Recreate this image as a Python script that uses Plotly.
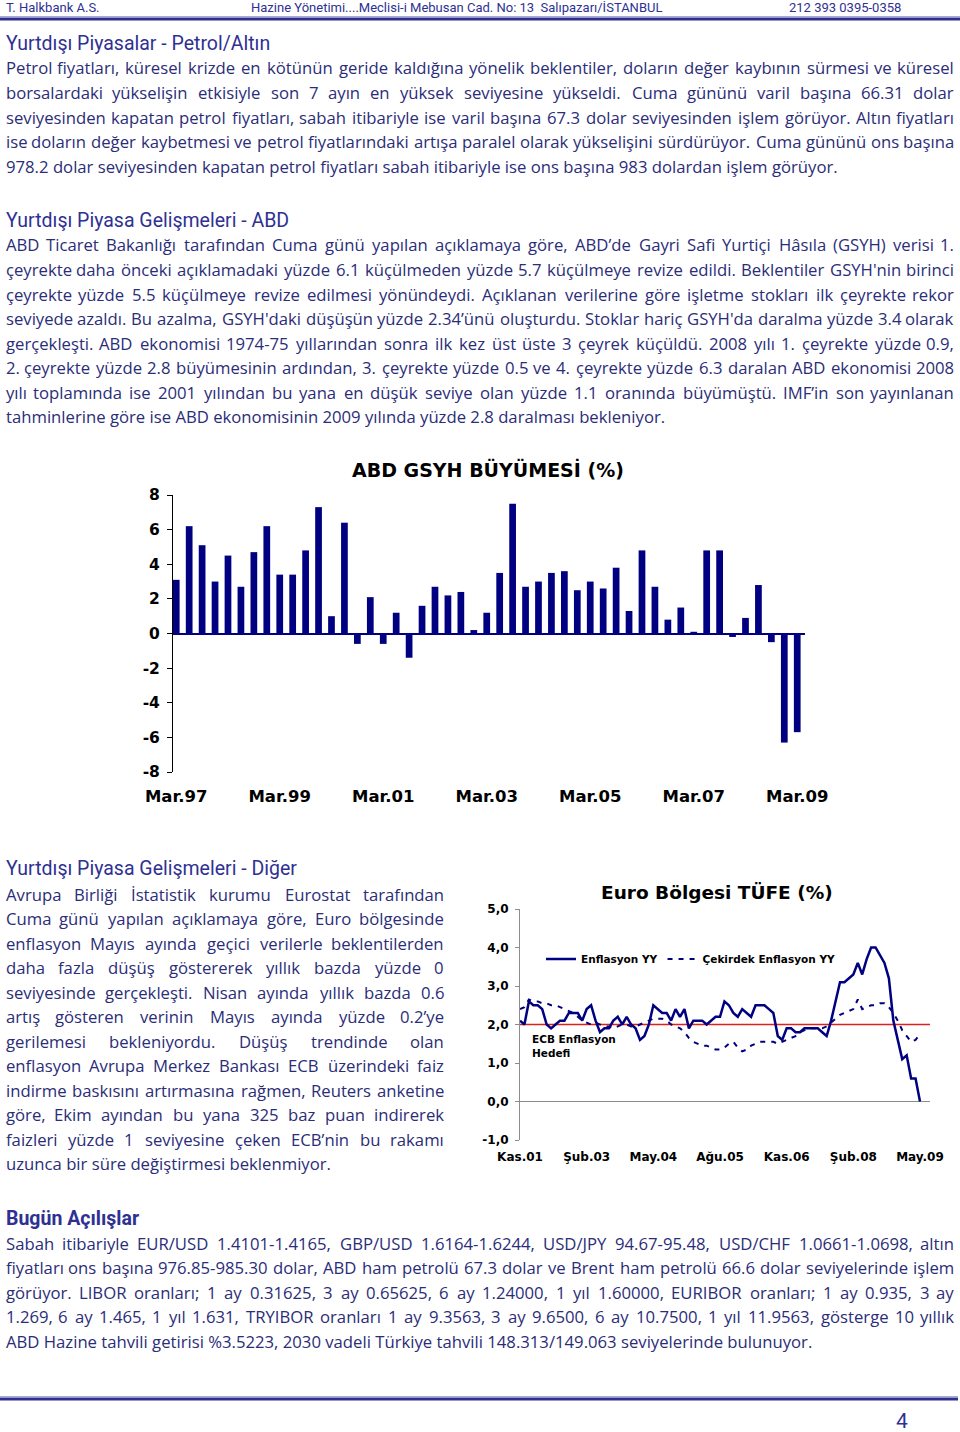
import plotly.graph_objects as go

FIG_W, FIG_H = 960, 1432

# ---------------------------------------------------------------- data / text
HEADER_LEFT = "T. Halkbank A.S."
HEADER_MID = "Hazine Yönetimi....Meclisi-i Mebusan Cad. No: 13  Salıpazarı/İSTANBUL"
HEADER_RIGHT = "212 393 0395-0358"

heading_petrol = "Yurtdışı Piyasalar - Petrol/Altın"
para_petrol = [
    "Petrol fiyatları, küresel krizde en kötünün geride kaldığına yönelik beklentiler, doların değer kaybının sürmesi ve küresel",
    "borsalardaki yükselişin etkisiyle son 7 ayın en yüksek seviyesine yükseldi. Cuma gününü varil başına 66.31 dolar",
    "seviyesinden kapatan petrol fiyatları, sabah itibariyle ise varil başına 67.3 dolar seviyesinden işlem görüyor. Altın fiyatları",
    "ise doların değer kaybetmesi ve petrol fiyatlarındaki artışa  paralel olarak yükselişini sürdürüyor. Cuma gününü ons başına",
    "978.2 dolar seviyesinden kapatan petrol fiyatları sabah itibariyle ise ons başına 983 dolardan işlem görüyor.",
]

heading_abd = "Yurtdışı Piyasa Gelişmeleri - ABD"
para_abd = [
    "ABD Ticaret Bakanlığı tarafından Cuma günü yapılan açıklamaya göre, ABD’de Gayri Safi Yurtiçi Hâsıla (GSYH)  verisi 1.",
    "çeyrekte daha önceki açıklamadaki yüzde 6.1 küçülmeden yüzde 5.7 küçülmeye revize edildi. Beklentiler   GSYH'nin birinci",
    "çeyrekte yüzde 5.5 küçülmeye revize edilmesi yönündeydi. Açıklanan verilerine göre işletme stokları ilk çeyrekte rekor",
    "seviyede azaldı. Bu azalma, GSYH'daki düşüşün yüzde 2.34’ünü oluşturdu. Stoklar hariç GSYH'da daralma yüzde 3.4 olarak",
    "gerçekleşti.  ABD ekonomisi 1974-75 yıllarından  sonra ilk kez üst üste 3 çeyrek küçüldü.  2008 yılı 1. çeyrekte yüzde 0.9,",
    "2. çeyrekte yüzde 2.8 büyümesinin ardından, 3. çeyrekte yüzde 0.5 ve 4. çeyrekte yüzde 6.3 daralan ABD ekonomisi 2008",
    "yılı toplamında ise 2001 yılından bu yana en düşük seviye olan yüzde 1.1 oranında büyümüştü. IMF’in son yayınlanan",
    "tahminlerine göre ise ABD ekonomisinin 2009 yılında yüzde 2.8 daralması bekleniyor.",
]

gdp_title = "ABD GSYH BÜYÜMESİ (%)"
quarter_names = ["Mar", "Haz", "Eyl", "Ara"]
gdp_quarters = [f"{q}.{y % 100:02d}" for y in range(1997, 2010) for q in quarter_names][:49]
gdp_growth = [3.1, 6.2, 5.1, 3.0, 4.5, 2.7, 4.7, 6.2, 3.4, 3.4,
              4.8, 7.3, 1.0, 6.4, -0.6, 2.1, -0.6, 1.2, -1.4, 1.6,
              2.7, 2.2, 2.4, 0.2, 1.2, 3.5, 7.5, 2.7, 3.0, 3.5,
              3.6, 2.5, 3.0, 2.6, 3.8, 1.3, 4.8, 2.7, 0.8, 1.5,
              0.1, 4.8, 4.8, -0.2, 0.9, 2.8, -0.5, -6.3, -5.7]
gdp_xticks = ["Mar.97", "Mar.99", "Mar.01", "Mar.03", "Mar.05", "Mar.07", "Mar.09"]
gdp_yticks = [8, 6, 4, 2, 0, -2, -4, -6, -8]
gdp_yticktext = ["8", "6", "4", "2", "0", "-2", "-4", "-6", "-8"]

heading_diger = "Yurtdışı Piyasa Gelişmeleri - Diğer"
para_diger = [
    "Avrupa Birliği İstatistik kurumu Eurostat tarafından",
    "Cuma günü yapılan açıklamaya göre, Euro bölgesinde",
    "enflasyon Mayıs ayında geçici verilerle beklentilerden",
    "daha fazla düşüş göstererek yıllık bazda yüzde 0",
    "seviyesinde gerçekleşti.  Nisan ayında yıllık bazda 0.6",
    "artış gösteren verinin Mayıs ayında yüzde 0.2’ye",
    "gerilemesi bekleniyordu. Düşüş trendinde olan",
    "enflasyon Avrupa Merkez Bankası ECB üzerindeki faiz",
    "indirme baskısını artırmasına rağmen,  Reuters anketine",
    "göre, Ekim ayından bu yana 325 baz puan indirerek",
    "faizleri yüzde 1 seviyesine çeken ECB’nin bu rakamı",
    "uzunca bir süre değiştirmesi beklenmiyor.",
]

cpi_title = "Euro Bölgesi TÜFE (%)"
month_names = ["Oca", "Şub", "Mar", "Nis", "May", "Haz", "Tem", "Ağu", "Eyl", "Eki", "Kas", "Ara"]
cpi_months = [f"{m}.{y:02d}" for y in range(1, 10) for m in month_names][10:101]
cpi_headline = [2.1, 2.0,
                2.6, 2.5, 2.5, 2.4, 2.0, 1.9, 2.0, 2.1, 2.1, 2.3, 2.3, 2.3,
                2.1, 2.4, 2.5, 2.1, 1.8, 1.9, 1.9, 2.1, 2.2, 2.0, 2.2, 2.0,
                1.9, 1.6, 1.7, 2.0, 2.5, 2.4, 2.3, 2.3, 2.1, 2.4, 2.2, 2.4,
                1.9, 2.1, 2.1, 2.1, 2.0, 2.1, 2.2, 2.2, 2.6, 2.5, 2.3, 2.2,
                2.4, 2.3, 2.2, 2.5, 2.5, 2.5, 2.4, 2.3, 1.7, 1.6, 1.9, 1.9,
                1.8, 1.8, 1.9, 1.9, 1.9, 1.9, 1.8, 1.7, 2.1, 2.6, 3.1, 3.1,
                3.2, 3.3, 3.6, 3.3, 3.7, 4.0, 4.0, 3.8, 3.6, 3.2, 2.1, 1.6,
                1.1, 1.2, 0.6, 0.6, 0.0]
cpi_core = [2.4, 2.45,
            2.65, 2.6, 2.6, 2.55, 2.55, 2.5, 2.5, 2.45, 2.4, 2.35, 2.3, 2.2,
            2.1, 2.05, 2.0, 2.05, 2.0, 1.95, 1.95, 1.9, 1.95, 2.0, 2.0, 1.95,
            1.95, 2.0, 2.05, 2.1, 2.15, 2.15, 2.15, 2.1, 2.0, 1.95, 1.9, 1.8,
            1.65, 1.55, 1.5, 1.45, 1.45, 1.4, 1.35, 1.35, 1.4, 1.5, 1.55, 1.4,
            1.3, 1.35, 1.45, 1.5, 1.55, 1.55, 1.55, 1.55, 1.5, 1.55, 1.6, 1.65,
            1.7, 1.8, 1.85, 1.9, 1.9, 1.9, 1.9, 1.95, 2.05, 2.15, 2.25, 2.3,
            2.35, 2.4, 2.65, 2.4, 2.45, 2.5, 2.5, 2.55, 2.55, 2.45, 2.3, 2.1,
            1.85, 1.7, 1.55, 1.6, 1.75]
cpi_series_names = ["Enflasyon YY", "Çekirdek Enflasyon YY"]
cpi_xticks = ["Kas.01", "Şub.03", "May.04", "Ağu.05", "Kas.06", "Şub.08", "May.09"]
cpi_yticks = [5, 4, 3, 2, 1, 0, -1]
cpi_yticktext = ["5,0", "4,0", "3,0", "2,0", "1,0", "0,0", "-1,0"]
ecb_target = 2.0
ecb_label = "ECB Enflasyon<br>Hedefi"

heading_acilis = "Bugün Açılışlar"
para_acilis = [
    "Sabah itibariyle EUR/USD 1.4101-1.4165, GBP/USD 1.6164-1.6244, USD/JPY 94.67-95.48, USD/CHF 1.0661-1.0698, altın",
    "fiyatları ons başına 976.85-985.30 dolar, ABD ham petrolü 67.3 dolar ve Brent ham petrolü 66.6 dolar seviyelerinde işlem",
    "görüyor. LIBOR oranları; 1 ay 0.31625, 3 ay 0.65625, 6 ay 1.24000, 1 yıl 1.60000, EURIBOR oranları; 1 ay 0.935, 3 ay",
    "1.269, 6 ay 1.465, 1 yıl 1.631, TRYIBOR oranları 1 ay 9.3563, 3 ay 9.6500, 6 ay 10.7500, 1 yıl 11.9563, gösterge 10 yıllık",
    "ABD Hazine tahvili getirisi %3.5223, 2030 vadeli Türkiye tahvili 148.313/149.063 seviyelerinde bulunuyor.",
]
page_no = "4"

# ---------------------------------------------------------------- styling
BODY = "#2b2d78"
HEAD = "#2e3192"
BAR = "#000080"
CHART_FONT = "DejaVu Sans"
BODY_FONT = "Open Sans"
HEAD_FONT = "Roboto"


def px(x):
    return x / FIG_W


def py(y):
    return 1 - y / FIG_H


# Open Sans approximate advance widths (em)
CW = {' ': .26, '.': .266, ',': .245, '-': .322, '/': .367, '(': .28, ')': .28, "'": .229,
      '’': .171, ';': .266, ':': .266, '%': .823}
CW.update(dict(zip("abcdefghijklmnopqrstuvwxyz",
                   [.556, .613, .476, .613, .561, .339, .548, .614, .253, .253, .525, .253, .930,
                    .614, .604, .613, .613, .408, .477, .353, .614, .501, .778, .524, .502, .477])))
CW.update(dict(zip("ABCDEFGHIJKLMNOPQRSTUVWXYZ",
                   [.633, .648, .631, .729, .556, .516, .728, .738, .279, .267, .614, .519, .903,
                    .754, .779, .602, .779, .618, .549, .553, .728, .595, .926, .577, .560, .571])))
CW.update({'ı': .253, 'ş': .477, 'ğ': .548, 'ü': .614, 'ö': .604, 'ç': .476, 'â': .556,
           'İ': .279, 'Ş': .549, 'Ç': .631, 'Ü': .728, 'Ö': .779, 'Ğ': .728})
for d in "0123456789":
    CW[d] = .572


def em(s):
    return sum(CW.get(c, .55) for c in s)


annotations = []


def text(t, x, y, size, color=BODY, family=BODY_FONT, anchor="left", bold=False):
    f = dict(family=family, size=size, color=color)
    if bold:
        f["weight"] = "bold"
    annotations.append(dict(text=t, x=px(x), y=py(y), xref="paper", yref="paper",
                            xanchor=anchor, yanchor="middle", showarrow=False, font=f,
                            borderpad=0))


def fit_size(lines, width, max_size):
    size = max_size
    for ln in lines[:-1]:
        words = ln.split()
        nat = sum(em(w) for w in words) + 0.2 * (len(words) - 1)
        size = min(size, width / nat)
    return size


def paragraph(lines, x0, x1, y0, size, dy=24.5):
    width = x1 - x0
    for i, ln in enumerate(lines):
        y = y0 + i * dy
        words = ln.split()
        if i == len(lines) - 1 or len(words) < 2:
            text(" ".join(words), x0, y, size)
            continue
        ws = [em(w) * size for w in words]
        gap = (width - sum(ws)) / (len(words) - 1)
        x = x0
        for j, (w, wd) in enumerate(zip(words, ws)):
            if j == 0:
                text(w, x0, y, size, anchor="left")
            elif j == len(words) - 1:
                text(w, x1, y, size, anchor="right")
            else:
                text(w, x + wd / 2, y, size, anchor="center")
            x += wd + gap


BODY_SIZE = min(fit_size(para_petrol, 950, 16.7), fit_size(para_abd, 950, 16.7),
                fit_size(para_diger, 440, 16.7), fit_size(para_acilis, 950, 16.7))

# header
text(HEADER_LEFT, 5, 7, 13, HEAD, HEAD_FONT)
text(HEADER_MID, 250, 7, 13, HEAD, HEAD_FONT)
text(HEADER_RIGHT, 788, 7, 13, HEAD, HEAD_FONT)

# sections
text(heading_petrol, 5, 43, 19.5, HEAD, HEAD_FONT)
paragraph(para_petrol, 5, 955, 68, BODY_SIZE)
text(heading_abd, 5, 220, 19.5, HEAD, HEAD_FONT)
paragraph(para_abd, 5, 955, 245, BODY_SIZE)
text(heading_diger, 5, 869, 19.5, HEAD, HEAD_FONT)
paragraph(para_diger, 5, 445, 894, BODY_SIZE)
text(heading_acilis, 5, 1218, 19.5, HEAD, HEAD_FONT, bold=True)
paragraph(para_acilis, 5, 955, 1243, BODY_SIZE)
text(page_no, 902, 1421, 21, HEAD, HEAD_FONT, anchor="center")

# chart titles / labels
text(gdp_title, 488, 469, 19, "black", CHART_FONT, anchor="center", bold=True)
text(cpi_title, 717, 892, 18.5, "black", CHART_FONT, anchor="center", bold=True)
annotations.append(dict(text=ecb_label, x=px(531), y=py(1046), xref="paper", yref="paper",
                        xanchor="left", yanchor="middle", align="left", showarrow=False,
                        borderpad=0,
                        font=dict(family=CHART_FONT, size=10.5, color="black", weight="bold")))

# ---------------------------------------------------------------- figure
fig = go.Figure()
fig.add_trace(go.Bar(x=gdp_quarters, y=gdp_growth, marker=dict(color=BAR, line=dict(width=0)),
                     width=0.52, xaxis="x", yaxis="y", showlegend=False))
fig.add_trace(go.Scatter(x=cpi_months, y=cpi_headline, mode="lines", name=cpi_series_names[0],
                         line=dict(color=BAR, width=2.5), xaxis="x2", yaxis="y2"))
fig.add_trace(go.Scatter(x=cpi_months, y=cpi_core, mode="lines", name=cpi_series_names[1],
                         line=dict(color=BAR, width=2, dash="5px,6px"), xaxis="x2", yaxis="y2"))

shapes = [
    # header rule
    dict(type="line", xref="paper", yref="paper", x0=0, x1=1, y0=py(16.5), y1=py(16.5),
         line=dict(color="#aaaad4", width=1)),
    dict(type="line", xref="paper", yref="paper", x0=0, x1=1, y0=py(19), y1=py(19),
         line=dict(color="#2e3192", width=3)),
    # footer rule
    dict(type="line", xref="paper", yref="paper", x0=0, x1=px(958), y0=py(1396.5), y1=py(1396.5),
         line=dict(color="#aaaad4", width=1)),
    dict(type="line", xref="paper", yref="paper", x0=0, x1=px(958), y0=py(1399), y1=py(1399),
         line=dict(color="#2e3192", width=3)),
    # ECB target
    dict(type="line", xref="x2 domain", yref="y2", x0=0, x1=1, y0=ecb_target, y1=ecb_target,
         line=dict(color="#e0201c", width=1.6), layer="below"),
]


def tick_bold(s):
    return dict(family=CHART_FONT, size=s, color="black", weight="bold")


fig.update_layout(
    width=FIG_W, height=FIG_H, template="none",
    margin=dict(l=0, r=0, t=0, b=0),
    paper_bgcolor="white", plot_bgcolor="white",
    annotations=annotations, shapes=shapes,
    xaxis=dict(domain=[px(173), px(805)], anchor="y", type="category", range=[-0.25, 48.6],
               tickmode="array", tickvals=gdp_xticks, ticktext=gdp_xticks, tickfont=tick_bold(16.5),
               showline=False, showgrid=False, zeroline=False, ticks="", ticklabelstandoff=12,
               automargin=False, fixedrange=True),
    yaxis=dict(domain=[py(772), py(495)], anchor="x", range=[-8, 8], tickmode="array",
               tickvals=gdp_yticks, ticktext=gdp_yticktext, tickfont=tick_bold(15.5),
               showline=True, linecolor="black", linewidth=1, ticks="outside", ticklen=5,
               tickcolor="black", showgrid=False, zeroline=True, zerolinecolor=BAR,
               zerolinewidth=2, ticklabelstandoff=4, automargin=False, fixedrange=True),
    xaxis2=dict(domain=[px(520), px(930)], anchor="y2", type="category", range=[0, 92.25],
                tickmode="array", tickvals=cpi_xticks, ticktext=cpi_xticks, tickfont=tick_bold(12),
                showline=False, showgrid=False, zeroline=False, ticks="", ticklabelstandoff=8,
                automargin=False, fixedrange=True),
    yaxis2=dict(domain=[py(1140), py(909)], anchor="x2", range=[-1, 5], tickmode="array",
                tickvals=cpi_yticks, ticktext=cpi_yticktext, tickfont=tick_bold(12),
                showline=True, linecolor="#8c8c8c", linewidth=1, ticks="outside", ticklen=4,
                tickcolor="#8c8c8c", showgrid=False, zeroline=True, zerolinecolor="#8c8c8c",
                zerolinewidth=1, ticklabelstandoff=4, automargin=False, fixedrange=True),
    showlegend=True,
    legend=dict(orientation="h", x=px(541), y=py(959), xanchor="left", yanchor="middle",
                bgcolor="rgba(0,0,0,0)", font=dict(family=CHART_FONT, size=10.5, color="black",
                                                   weight="bold"),
                itemwidth=30, tracegroupgap=0),
)

fig.write_html("out.html", config={"displayModeBar": False, "staticPlot": True},
               post_script="document.body.style.margin='0';document.body.style.padding='0';")
